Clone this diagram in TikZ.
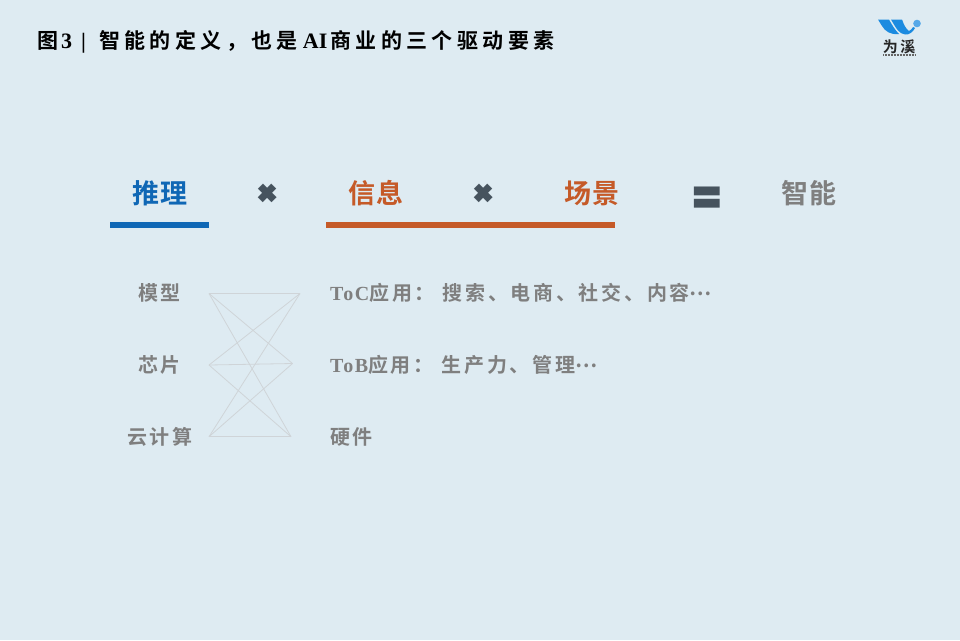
\documentclass[tikz,border=0pt]{standalone}
\usepackage{fontspec}
\usepackage{xcolor}
\setmainfont{Liberation Serif}
\newfontfamily\cjktitle[LetterSpace=21]{Noto Sans CJK SC Bold}
\newfontfamily\cjkhead[LetterSpace=4]{Noto Sans CJK SC Bold}
\newfontfamily\cjkbody[LetterSpace=12.5]{Noto Sans CJK SC Bold}
\newfontfamily\cjkapp[LetterSpace=13.5]{Noto Sans CJK SC Bold}
\newfontfamily\cjklogo{Noto Sans CJK SC Bold}
\newfontfamily\latinapp[LetterSpace=8]{Liberation Serif Bold}
\newfontfamily\signfont{Poppins Black}
\definecolor{paper}{HTML}{DEEBF2}
\definecolor{tuili}{HTML}{0F67B5}
\definecolor{xinxi}{HTML}{C55A28}
\definecolor{graytext}{HTML}{7F7F7F}
\definecolor{signcol}{HTML}{46535E}
\definecolor{wirecol}{HTML}{CFD4D8}
\definecolor{logoblue}{HTML}{1C8BE0}
\newcommand{\middots}{\raisebox{5pt}{⋯}}

\begin{document}
\begin{tikzpicture}[x=1pt,y=-1pt,
title/.style={anchor=west, inner sep=0pt, font=\fontsize{21}{24}\selectfont\cjktitle},
head/.style={inner sep=0pt, font=\fontsize{27}{30}\selectfont\cjkhead},
sign/.style={inner sep=0pt, text=signcol, font=\fontsize{35}{40}\selectfont\signfont},
leftitem/.style={inner sep=0pt, text=graytext, font=\fontsize{20}{24}\selectfont\cjkbody},
rightitem/.style={anchor=west, inner sep=0pt, text=graytext, font=\fontsize{20}{24}\selectfont\cjkapp},
bar/.style={line width=5.5pt},
wire/.style={draw=wirecol, line width=0.8pt}]
\fill[paper] (0,0) rectangle (960,640);
\useasboundingbox (0,0) rectangle (960,640);

% title
\node[title] (heading) at (37,42) {图{\rmfamily\bfseries\fontsize{22}{24}\selectfont\hspace{3pt}3\hspace{9pt}|\hspace{13pt}}智能的定义，也是{\rmfamily\bfseries\fontsize{22}{24}\selectfont\hspace{5pt}AI\hspace{3pt}}商业的三个驱动要素};

% logo
\fill[logoblue] (878,19.5) -- (889,19.5) .. controls (892,25) and (895,30) .. (899,34) .. controls (890,35) and (885,31) .. (882,26) .. controls (880,23) and (879,21) .. (878,19.5) -- cycle;
\fill[logoblue] (891,19.5) -- (902,19.5) .. controls (904,25) and (906,29) .. (909,31) .. controls (911,30) and (912,29) .. (913,27) -- (915,28) .. controls (913,32) and (909,35) .. (905,34.5) .. controls (899,34) and (896,28) .. (891,19.5) -- cycle;
\fill[logoblue!75!white] (917,23.5) circle (3.8);
\node[inner sep=0pt, text=black!85, font=\fontsize{15}{17}\selectfont\cjklogo] (logotext) at (899,47) {为\,溪};
\coordinate (logoa) at (883,55);
\coordinate (logob) at (915,55);
\draw[black!60, line width=1.2pt, dash pattern=on 1pt off 0.5pt] (logoa) -- (logob);

% top row
\node[head, text=tuili] (tuili) at (160,193) {推理};
\node[sign] (times1) at (268,194.5) {×};
\node[head, text=xinxi] (xinxi) at (376,193) {信息};
\node[sign] (times2) at (484,194.5) {×};
\node[head, text=xinxi] (changjing) at (592,193) {场景};
\node[sign, font=\fontsize{44}{48}\selectfont\signfont] (equal) at (707,200) {=};
\node[head, text=graytext] (zhineng) at (809,193) {智能};

\coordinate (tuilia) at (110,225);
\coordinate (tuilib) at (209,225);
\coordinate (xinxia) at (326,225);
\coordinate (xinxib) at (615,225);
\draw[bar, tuili] (tuilia) -- (tuilib);
\draw[bar, xinxi] (xinxia) -- (xinxib);

% lists
\node[leftitem] (moxing) at (159.5,293) {模型};
\node[leftitem] (xinpian) at (159.5,365) {芯片};
\node[leftitem] (yun) at (159.5,437) {云计算};
\node[rightitem] (toc) at (330,293) {{\latinapp ToC}应用：\hspace{8pt}搜索、电商、社交、内容\middots};
\node[rightitem] (tob) at (330,365) {{\latinapp ToB}应用：\hspace{8pt}生产力、管理\middots};
\node[rightitem] (yingjian) at (330,437) {硬件};

% wires
\coordinate (l1) at (209,293.5);
\coordinate (l2) at (209,365);
\coordinate (l3) at (209,436.7);
\coordinate (r1) at (300,293.5);
\coordinate (r2) at (292.5,363.5);
\coordinate (r3) at (291,436.7);
\foreach \i in {1,2,3}
  \foreach \j in {1,2,3}
    \draw[wire] (l\i) -- (r\j);
\end{tikzpicture}
\end{document}
